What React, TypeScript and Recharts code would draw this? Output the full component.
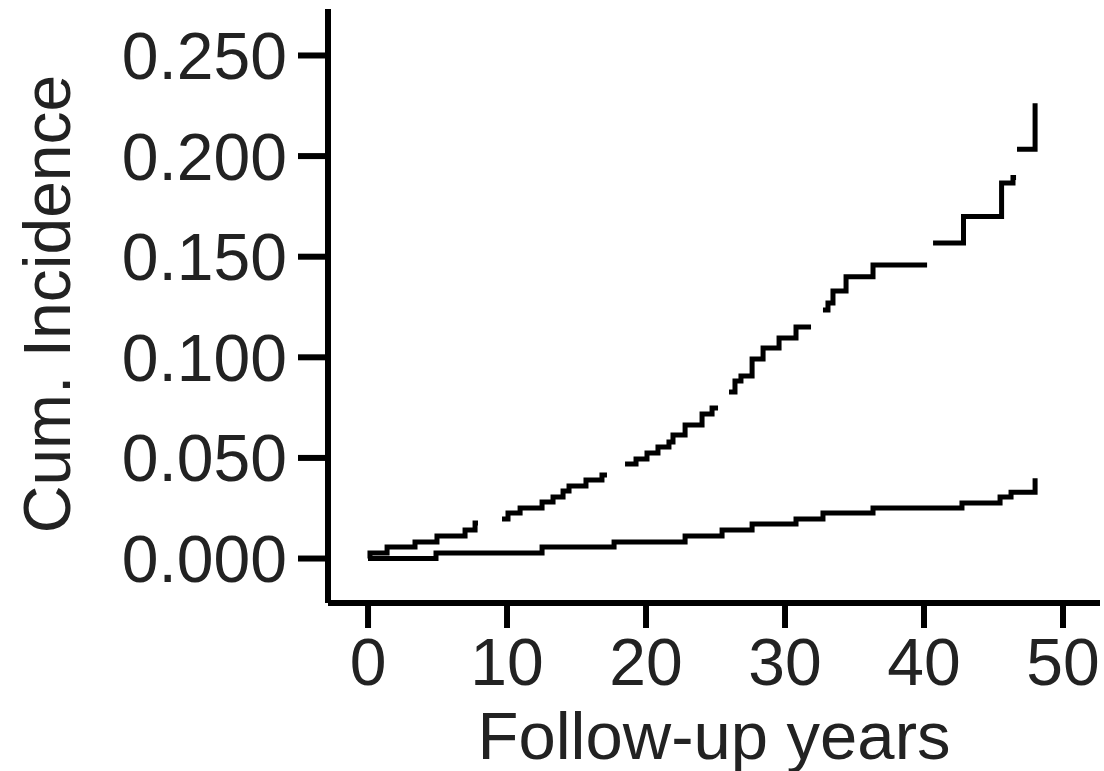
import { LineChart, Line, XAxis, YAxis } from "recharts";

// Follow-up years / cumulative incidence; null marks a break in the drawn line
const upperYears = [
  0, 0.14, 1.37, 3.38, 4.96, 6.98, 7.7, 7.91, 8.8,
  9.64, 10.07, 10.94, 12.52, 13.31, 14.03, 14.46, 15.68, 16.83, 17.19, 17.8,
  18.49, 19.28, 20.07, 20.86, 21.65, 21.94, 22.81, 24.03, 24.75, 25.18, 25.6,
  25.97, 26.4, 26.83, 27.63, 28.42, 29.57, 30.79, 31.87, 32.3,
  32.73, 33.09, 33.45, 34.39, 36.33, 40.22, 40.4,
  40.65, 42.84, 45.58, 46.4, 46.62, 46.66,
  46.69, 47.99,
];
const upperInc = [
  0, 0.0027, 0.0057, 0.0082, 0.0112, 0.0142, 0.0176, 0.0176, null,
  0.0196, 0.0226, 0.0251, 0.0281, 0.0306, 0.0335, 0.036, 0.039, 0.0415, 0.0415, null,
  0.047, 0.0495, 0.0525, 0.0554, 0.0579, 0.0614, 0.0663, 0.0718, 0.0748, 0.0748, null,
  0.0828, 0.0882, 0.0907, 0.0992, 0.1046, 0.1096, 0.1151, 0.1151, null,
  0.1235, 0.127, 0.133, 0.14, 0.1459, 0.1459, null,
  0.1568, 0.17, 0.1866, 0.1893, 0.1893, null,
  0.2034, 0.2262,
];

const lowerYears = [0, 4.89, 12.52, 17.7, 22.81, 25.47, 27.63, 30.79, 32.73, 36.33, 42.73, 45.47, 46.26, 47.99];
const lowerInc = [0, 0.0027, 0.0057, 0.0082, 0.0112, 0.0142, 0.0171, 0.0196, 0.0226, 0.0251, 0.0276, 0.0306, 0.033, 0.0399];

const xTicks = [0, 10, 20, 30, 40, 50];
const yTicks = [0, 0.05, 0.1, 0.15, 0.2, 0.25];

const upperData = upperYears.map((x, i) => ({ x, y: upperInc[i] }));
const lowerData = lowerYears.map((x, i) => ({ x, y: lowerInc[i] }));

const FONT = "'Liberation Sans', Arial, sans-serif";
const INK = "#222";
const tickStyle = { fill: INK, fontSize: 66, fontFamily: FONT };
const lineStyle = { stroke: "#000", strokeWidth: 6 };

export default function App() {
  return (
    <div style={{ position: "absolute", left: 0, top: 0, background: "#fff" }}>
      <LineChart width={1104} height={771} margin={{ top: 9, right: 4, left: 0, bottom: 0 }}>
        <XAxis
          dataKey="x"
          type="number"
          domain={[-2.88, 52.66]}
          ticks={xTicks}
          allowDataOverflow
          height={168}
          tick={tickStyle}
          tickSize={25}
          tickMargin={10}
          axisLine={lineStyle}
          tickLine={lineStyle}
          label={{
            content: (p: any) => (
              <text
                x={p.viewBox.x + p.viewBox.width / 2}
                y={759}
                textAnchor="middle"
                fill={INK}
                fontSize={67}
                fontFamily={FONT}
              >
                Follow-up years
              </text>
            ),
          }}
        />
        <YAxis
          type="number"
          domain={[-0.0221, 0.2731]}
          ticks={yTicks}
          allowDataOverflow
          width={328}
          tick={tickStyle}
          tickSize={30}
          tickMargin={11}
          tickFormatter={(v: number) => v.toFixed(3)}
          axisLine={lineStyle}
          tickLine={lineStyle}
          label={{
            content: () => (
              <text
                x={70}
                y={304}
                transform="rotate(-90, 70, 304)"
                textAnchor="middle"
                fill={INK}
                fontSize={66}
                fontFamily={FONT}
              >
                Cum. Incidence
              </text>
            ),
          }}
        />
        <Line
          data={lowerData}
          dataKey="y"
          type="stepAfter"
          stroke="#000"
          strokeWidth={5}
          dot={false}
          isAnimationActive={false}
        />
        <Line
          data={upperData}
          dataKey="y"
          type="stepAfter"
          stroke="#000"
          strokeWidth={5}
          dot={false}
          connectNulls={false}
          isAnimationActive={false}
        />
      </LineChart>
    </div>
  );
}
